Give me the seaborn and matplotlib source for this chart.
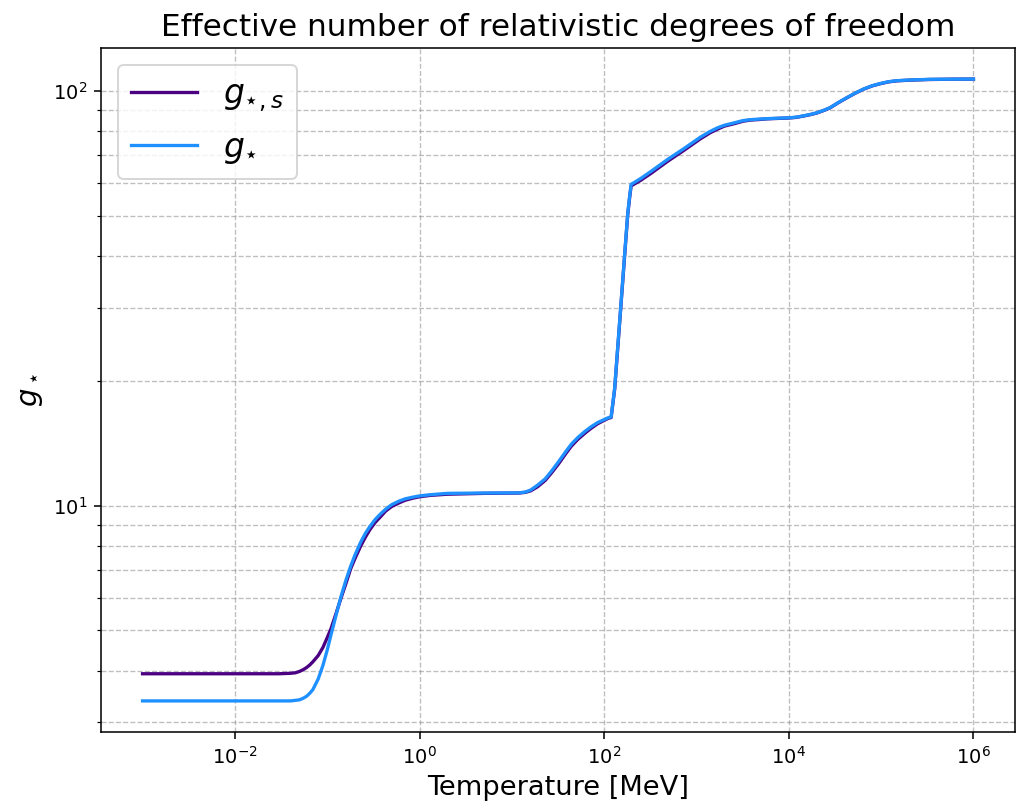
import numpy as np
import pandas as pd
import matplotlib
matplotlib.use("Agg")
import matplotlib.pyplot as plt
import matplotlib.ticker as mticker
import seaborn as sns

# Temperature grid [MeV]
temperature = [0.001, 0.004, 0.015, 0.03, 0.04, 0.045, 0.05, 0.055, 0.06, 0.065,
               0.07, 0.08, 0.09, 0.1, 0.11, 0.125, 0.14, 0.16, 0.18, 0.2,
               0.23, 0.26, 0.29, 0.33, 0.37, 0.43, 0.5, 0.6, 0.7, 0.85,
               1.0, 1.3, 2.0, 5.0, 12, 14, 16, 19, 23, 27,
               32, 38, 44, 52, 62, 72, 85, 100, 112, 119,
               130, 140, 151, 165, 180, 190, 196, 250, 320, 490,
               740, 1100, 1400, 1700, 2000, 2600, 3200, 3800, 4800, 5800,
               7500, 10000, 12000, 14600, 17000, 20000, 24000, 28000, 34000, 42500,
               52000, 65000, 80000, 97000, 120000, 147000, 200000, 330000, 600000, 1e6]

# entropy degrees of freedom g_{*,s}
g_star_s = [3.93, 3.93, 3.93, 3.93, 3.94, 3.95, 3.98, 4.02, 4.07, 4.13,
            4.2, 4.35, 4.55, 4.8, 5.05, 5.5, 5.95, 6.5, 7.05, 7.45,
            7.98, 8.4, 8.75, 9.1, 9.35, 9.7, 9.95, 10.15, 10.3, 10.42,
            10.5, 10.58, 10.65, 10.7, 10.72, 10.76, 10.85, 11.1, 11.5, 12.0,
            12.6, 13.3, 13.9, 14.45, 14.95, 15.35, 15.75, 16.05, 16.25, 16.3,
            19.1, 23.8, 29.8, 38.9, 50.3, 56.0, 59.0, 60.9, 63.2, 67.7,
            72.0, 76.6, 79.2, 80.9, 82.2, 83.4, 84.5, 85.0, 85.3, 85.6,
            85.8, 86.0, 86.3, 87.0, 87.6, 88.4, 89.7, 91.0, 93.5, 96.2,
            98.6, 101.0, 102.8, 104.0, 105.1, 105.7, 106.1, 106.5, 106.7, 106.75]

# energy degrees of freedom g_*
g_star = [3.38, 3.38, 3.38, 3.38, 3.38, 3.39, 3.40, 3.43, 3.47, 3.53,
          3.6, 3.82, 4.12, 4.48, 4.88, 5.45, 6.0, 6.62, 7.15, 7.6,
          8.15, 8.58, 8.9, 9.25, 9.5, 9.8, 10.05, 10.25, 10.38, 10.48,
          10.55, 10.62, 10.7, 10.72, 10.73, 10.78, 10.9, 11.2, 11.6, 12.12,
          12.75, 13.45, 14.05, 14.6, 15.1, 15.48, 15.85, 16.12, 16.3, 16.35,
          19.2, 24.0, 30.0, 39.2, 50.6, 56.4, 59.5, 61.5, 63.9, 68.4,
          72.7, 77.3, 79.8, 81.5, 82.6, 83.8, 84.8, 85.2, 85.5, 85.7,
          85.9, 86.1, 86.4, 87.1, 87.7, 88.5, 89.8, 91.1, 93.6, 96.3,
          98.7, 101.1, 102.9, 104.1, 105.2, 105.8, 106.2, 106.6, 106.7, 106.75]

x_ticks = [1e-2, 1e0, 1e2, 1e4, 1e6]

series_labels = [r'$g_{\star,s}$', r'$g_{\star}$']
series_colors = ['#4B0082', '#1E90FF']

df = pd.concat([
    pd.DataFrame({'T': temperature, 'g': g_star_s, 'series': series_labels[0]}),
    pd.DataFrame({'T': temperature, 'g': g_star, 'series': series_labels[1]}),
], ignore_index=True)

fig = plt.figure(figsize=(1016 / 140, 812 / 140), dpi=140)
ax = fig.add_axes([101 / 1016, (812 - 732) / 812, (1015 - 101) / 1016, (732 - 48) / 812])

sns.lineplot(data=df, x='T', y='g', hue='series', hue_order=series_labels,
             palette=dict(zip(series_labels, series_colors)), linewidth=1.7,
             sort=False, estimator=None, ax=ax)

ax.set_xscale('log')
ax.set_yscale('log')
ax.set_xticks(x_ticks)
ax.xaxis.set_major_formatter(mticker.LogFormatterSciNotation())
ax.xaxis.set_minor_locator(mticker.NullLocator())

ax.grid(True, which='major', linestyle='--', color='gray', alpha=0.5, linewidth=0.7)
ax.grid(True, which='minor', axis='y', linestyle='--', color='gray', alpha=0.5, linewidth=0.7)

ax.set_title('Effective number of relativistic degrees of freedom', fontsize=16)
ax.set_xlabel('Temperature [MeV]', fontsize=14)
ax.set_ylabel(r'$g_\star$', fontsize=15)

leg = ax.legend(loc='upper left', fontsize=17, title=None)

fig.savefig('out.png', dpi=140)
